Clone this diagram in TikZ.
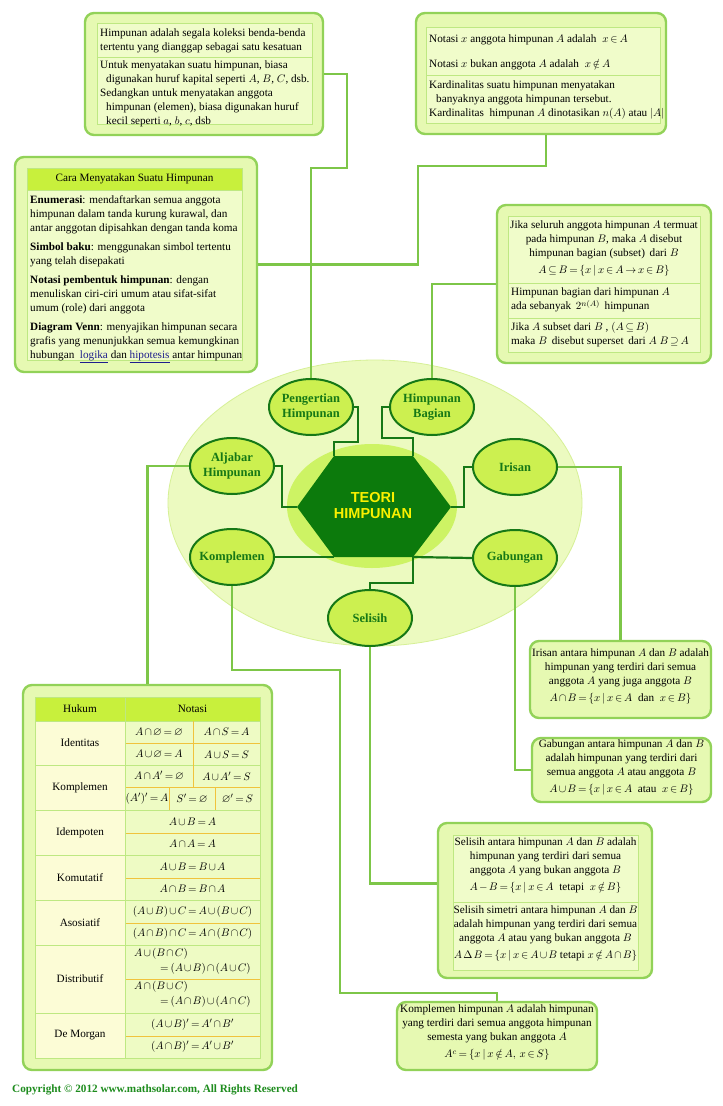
\documentclass[tikz,border=0pt]{standalone}
\usepackage{amssymb}
\usepackage{fontspec}
\setmainfont{Liberation Serif}
\newfontfamily\hexfont{Liberation Sans}
\definecolor{hpdark}{RGB}{22,120,22}
\definecolor{hphex}{RGB}{12,122,12}
\definecolor{hpyellow}{RGB}{250,240,0}
\definecolor{hptopic}{RGB}{204,240,80}
\definecolor{hpbig}{RGB}{236,250,192}
\definecolor{hpbigline}{RGB}{214,240,150}
\definecolor{hpinner}{RGB}{205,243,100}
\definecolor{hpboxfill}{RGB}{230,249,178}
\definecolor{hpboxline}{RGB}{146,210,88}
\definecolor{hpcell}{RGB}{240,252,202}
\definecolor{hpcellline}{RGB}{190,232,130}
\definecolor{hphead}{RGB}{200,240,60}
\definecolor{hplink}{RGB}{125,198,72}
\definecolor{hplaw}{RGB}{252,252,214}
\definecolor{hpnot}{RGB}{238,251,196}
\definecolor{hporange}{RGB}{240,195,60}
\definecolor{hpcopy}{RGB}{30,140,30}
\definecolor{hpblue}{RGB}{30,30,140}
\usetikzlibrary{shapes.geometric,calc}
\newcommand{\boxfont}{\fontsize{11.2}{14}\selectfont\medmuskip=2mu\relax\thickmuskip=3mu\relax}
\newcommand{\distfont}{\fontsize{11.2}{15}\selectfont\medmuskip=2mu\relax\thickmuskip=3mu\relax}
\newcommand{\topicfont}{\fontsize{12.5}{15.5}\selectfont\bfseries}
\newcommand{\weblink}[1]{\textcolor{hpblue}{\underline{#1}}}

\begin{document}
\begin{tikzpicture}[x=1pt, y=-1pt,
  bigbox/.style={draw=hpboxline, line width=2.4pt, fill=hpboxfill, rounded corners=9pt, inner sep=0pt},
  cell/.style={draw=hpcellline, line width=0.6pt, fill=hpcell, inner sep=0pt, anchor=north west},
  txt/.style={font=\boxfont, inner sep=0pt, align=left, anchor=north west},
  ctxt/.style={font=\boxfont, inner sep=0pt, align=center, anchor=north},
  topic/.style={ellipse, draw=hpdark, line width=2pt, fill=hptopic, minimum width=84pt, minimum height=56pt, inner xsep=-6pt, inner ysep=0pt, font=\topicfont, text=hpdark, align=center},
  darklink/.style={draw=hpdark, line width=2.2pt},
  lightlink/.style={draw=hplink, line width=2.4pt},
  cellnote/.style={font=\boxfont, inner sep=0pt}]
  \useasboundingbox (0,0) rectangle (723,1106);
  \fill[white] (0,0) rectangle (723,1106);

  % Centre ellipses
  \draw[fill=hpbig, draw=hpbigline, line width=0.8pt] (375,503) ellipse [x radius=207, y radius=143];
  \fill[hpinner] (372,506) ellipse [x radius=85, y radius=62];

  % Hexagon
  \coordinate (hexTL) at (334,456);
  \coordinate (hexTR) at (413,456);
  \coordinate (hexR) at (451,507);
  \coordinate (hexBR) at (413,557);
  \coordinate (hexBL) at (334,557);
  \coordinate (hexL) at (297,507);
  \fill[hphex] (hexTL) -- (hexTR) -- (hexR) -- (hexBR) -- (hexBL) -- (hexL) -- cycle;
  \node[font=\hexfont\fontsize{14.5}{16}\selectfont\bfseries, text=hpyellow, align=center] (teori) at (373,506) {TEORI\\HIMPUNAN};

  % Topic ellipses
  \node[topic] (pengertian) at (311,407) {Pengertian\\Himpunan};
  \node[topic] (bagian) at (432,407) {Himpunan\\Bagian};
  \node[topic] (aljabar) at (232,466) {Aljabar\\Himpunan};
  \node[topic] (irisan) at (515,467) {Irisan};
  \node[topic] (komplemen) at (232,557) {Komplemen};
  \node[topic] (gabungan) at (515,558) {Gabungan};
  \node[topic] (selisih) at (370,618) {Selisih};

  % Definisi
  \node[bigbox, minimum width=238pt, minimum height=122pt] (def) at (204,74) {};
  \node[cell, minimum width=215pt, minimum height=34pt] (defcellA) at (97,23) {};
  \node[cell, minimum width=215pt, minimum height=67pt] (defcellB) at (97,57) {};
  \node[txt] (deftextA) at (100,29) {Himpunan adalah segala koleksi benda-benda\\tertentu yang dianggap sebagai satu kesatuan};
  \node[txt] (deftextB) at (100,61) {Untuk menyatakan suatu himpunan, biasa\\\hspace*{6pt}digunakan huruf kapital seperti $A$, $B$, $C$, dsb.\\Sedangkan untuk menyatakan anggota\\\hspace*{6pt}himpunan (elemen), biasa digunakan huruf\\\hspace*{6pt}kecil seperti $a$, $b$, $c$, dsb};

  % Notasi anggota
  \node[bigbox, minimum width=250pt, minimum height=121pt] (notasi) at (541,73.5) {};
  \node[cell, minimum width=234pt, minimum height=48pt] (notcellA) at (426,27) {};
  \node[cell, minimum width=234pt, minimum height=48pt] (notcellB) at (426,75) {};
  \node[txt] (nottextA) at (429,35) {Notasi $x$ anggota himpunan $A$ adalah\; $x\in A$};
  \node[txt] (nottextB) at (429,59) {Notasi $x$ bukan anggota $A$ adalah\; $x\notin A$};
  \node[txt] (nottextC) at (429,81) {Kardinalitas suatu himpunan menyatakan\\\hspace*{7pt}banyaknya anggota himpunan tersebut.\\Kardinalitas\ \ himpunan $A$ dinotasikan $n(A)$ atau $|A|$};

  % Cara menyatakan
  \node[bigbox, minimum width=242pt, minimum height=215pt] (cara) at (136,264.5) {};
  \node[cell, fill=hphead, minimum width=215pt, minimum height=22pt] (carahead) at (27,168) {};
  \node[cell, minimum width=215pt, minimum height=170pt] (carabody) at (27,190) {};
  \node[cellnote] (caratitle) at (134.5,179) {Cara Menyatakan Suatu Himpunan};
  \node[txt] (caratext) at (30,195) {\textbf{Enumerasi}: mendaftarkan semua anggota\\himpunan dalam tanda kurung kurawal, dan\\antar anggotan dipisahkan dengan tanda koma\\[5pt]\textbf{Simbol baku}: menggunakan simbol tertentu\\yang telah disepakati\\[5pt]\textbf{Notasi pembentuk himpunan}: dengan\\menuliskan ciri-ciri umum atau sifat-sifat\\umum (role) dari anggota\\[5pt]\textbf{Diagram Venn}: menyajikan himpunan secara\\grafis yang menunjukkan semua kemungkinan\\hubungan\ \ \weblink{logika} dan \weblink{hipotesis} antar himpunan};

  % Himpunan bagian
  \node[bigbox, minimum width=214pt, minimum height=158pt] (subset) at (604,284) {};
  \node[cell, minimum width=192pt, minimum height=67pt] (subcellA) at (508,216) {};
  \node[cell, minimum width=192pt, minimum height=35pt] (subcellB) at (508,283) {};
  \node[cell, minimum width=192pt, minimum height=34pt] (subcellC) at (508,318) {};
  \node[ctxt] (subtextA) at (604,221) {Jika seluruh anggota himpunan $A$ termuat\\pada himpunan $B$, maka $A$ disebut\\himpunan bagian (subset)\, dari $B$\\[3pt]$A\subseteq B=\{x\mid x\in A\to x\in B\}$};
  \node[txt] (subtextB) at (511,288) {Himpunan bagian dari himpunan $A$\\ada sebanyak\, $2^{n(A)}$\, himpunan};
  \node[txt] (subtextC) at (511,322) {Jika $A$ subset dari $B$ , $(A\subseteq B)$\\maka $B$\, disebut superset\, dari $A$ $B\supseteq A$};

  % Irisan
  \node[bigbox, minimum width=181pt, minimum height=77pt] (irisanbox) at (620.5,679.5) {};
  \node[ctxt] (iristext) at (620.5,649) {Irisan antara himpunan $A$ dan $B$ adalah\\himpunan yang terdiri dari semua\\anggota $A$ yang juga anggota $B$\\[3pt]$A\cap B=\{x\mid x\in A$\ \ dan\ \ $x\in B\}$};

  % Gabungan
  \node[bigbox, minimum width=179pt, minimum height=64pt] (gabunganbox) at (621.5,770) {};
  \node[ctxt] (gabtext) at (621.5,740) {Gabungan antara himpunan $A$ dan $B$\\adalah himpunan yang terdiri dari\\semua anggota $A$ atau anggota $B$\\[3pt]$A\cup B=\{x\mid x\in A$\ \ atau\ \ $x\in B\}$};

  % Selisih
  \node[bigbox, minimum width=214pt, minimum height=155pt] (selisihbox) at (545,900.5) {};
  \node[cell, minimum width=185pt, minimum height=67pt] (selcellA) at (453,835) {};
  \node[cell, minimum width=185pt, minimum height=68pt] (selcellB) at (453,902) {};
  \node[ctxt] (seltextA) at (545.5,838) {Selisih antara himpunan $A$ dan $B$ adalah\\himpunan yang terdiri dari semua\\anggota $A$ yang bukan anggota $B$\\[3pt]$A-B=\{x\mid x\in A$\ \ tetapi\ \ $x\notin B\}$};
  \node[ctxt] (seltextB) at (545.5,906) {Selisih simetri antara himpunan $A$ dan $B$\\adalah himpunan yang terdiri dari semua\\anggota $A$ atau yang bukan anggota $B$\\[3pt]$A\mathbin{\Delta} B=\{x\mid x\in A\cup B$\ tetapi\ $x\notin A\cap B\}$};

  % Komplemen
  \node[bigbox, minimum width=200pt, minimum height=68pt] (kompbox) at (497,1036) {};
  \node[ctxt] (komptext) at (497,1005) {Komplemen himpunan $A$ adalah himpunan\\yang terdiri dari semua anggota himpunan\\semesta yang bukan anggota $A$\\[3pt]$A^c=\{x\mid x\notin A,\, x\in S\}$};

  % Aljabar table
  \node[bigbox, minimum width=249pt, minimum height=385pt] (hukum) at (147.5,877.5) {};
  \fill[hphead] (35,697) rectangle (260,721);
  \node[cellnote] (headhukum) at (80,709) {Hukum};
  \node[cellnote] (headnotasi) at (192.5,709) {Notasi};
  \foreach \id/\law/\top/\bot in {lawA/Identitas/721/765, lawB/Komplemen/765/810, lawC/Idempoten/810/855, lawD/Komutatif/855/900, lawE/Asosiatif/900/945, lawF/Distributif/945/1013, lawG/De Morgan/1013/1058} {
    \fill[hplaw] (35,\top) rectangle (125,\bot);
    \fill[hpnot] (125,\top) rectangle (260,\bot);
    \node[cellnote] (\id) at (80,{(\top+\bot)/2}) {\law};
    \draw[hpcellline, line width=0.8pt] (35,\top) -- (260,\top);
  }
  \foreach \y in {743,787,833,878,923,979,1036}
    \draw[hporange, line width=1pt] (125,\y) -- (260,\y);
  \draw[hporange, line width=1pt] (193,721) -- (193,787);
  \draw[hporange, line width=1pt] (169,787) -- (169,810);
  \draw[hporange, line width=1pt] (215,787) -- (215,810);
  \draw[hpcellline, line width=0.8pt] (125,697) -- (125,1058);
  \draw[hpcellline, line width=0.8pt] (35,697) rectangle (260,1058);

  % Table entries
  \node[cellnote] (idA) at (159,732) {$A\cap\varnothing=\varnothing$};
  \node[cellnote] (idB) at (226.5,732) {$A\cap S=A$};
  \node[cellnote] (idC) at (159,754.5) {$A\cup\varnothing=A$};
  \node[cellnote] (idD) at (226.5,754.5) {$A\cup S=S$};
  \node[cellnote] (kpA) at (159,776) {$A\cap A'=\varnothing$};
  \node[cellnote] (kpB) at (226.5,776) {$A\cup A'=S$};
  \node[cellnote] (kpC) at (147,798.5) {$(A')'=A$};
  \node[cellnote] (kpD) at (192,798.5) {$S'=\varnothing$};
  \node[cellnote] (kpE) at (237.5,798.5) {$\varnothing'=S$};
  \node[cellnote] (ipA) at (192.5,821.5) {$A\cup B=A$};
  \node[cellnote] (ipB) at (192.5,844) {$A\cap A=A$};
  \node[cellnote] (kmA) at (192.5,866.5) {$A\cup B=B\cup A$};
  \node[cellnote] (kmB) at (192.5,889) {$A\cap B=B\cap A$};
  \node[cellnote] (asA) at (192.5,911.5) {$(A\cup B)\cup C=A\cup(B\cup C)$};
  \node[cellnote] (asB) at (192.5,934) {$(A\cap B)\cap C=A\cap(B\cap C)$};
  \node[txt, font=\distfont] (dsA) at (134,948) {$A\cup(B\cap C)$\\\hspace*{26pt}$=(A\cup B)\cap(A\cup C)$};
  \node[txt, font=\distfont] (dsB) at (134,981) {$A\cap(B\cup C)$\\\hspace*{26pt}$=(A\cap B)\cup(A\cap C)$};
  \node[cellnote] (dmA) at (192.5,1024.5) {$(A\cup B)'=A'\cap B'$};
  \node[cellnote] (dmB) at (192.5,1047) {$(A\cap B)'=A'\cup B'$};

  % Copyright
  \node[font=\fontsize{11.2}{13}\selectfont\bfseries, text=hpcopy, anchor=west, inner sep=0pt] (copyright) at (12,1090) {Copyright \textcopyright\ 2012 www.mathsolar.com, All Rights Reserved};

  % Light connectors
  \coordinate (bendA) at (347,168);
  \coordinate (joinA) at (pengertian.north |- cara.east);
  \coordinate (bendB) at (418,166);
  \coordinate (bendC) at (340,670);
  \coordinate (bendD) at (497,993);
  \draw[lightlink] (pengertian.north) |- (bendA) |- (def.east);
  \draw[lightlink] (cara.east) -- (joinA);
  \draw[lightlink] ([xshift=5pt]notasi.south) |- (bendB) |- (joinA);
  \draw[lightlink] (bagian.north) |- (subset.west);
  \draw[lightlink] (aljabar.west) -| (hukum.north);
  \draw[lightlink] (irisan.east) -| (irisanbox.north);
  \draw[lightlink] (gabungan.south) |- (gabunganbox.west);
  \draw[lightlink] (selisih.south) |- ([yshift=17pt]selisihbox.west);
  \draw[lightlink] (komplemen.south) |- (bendC) |- (bendD) -- (kompbox.north);

  % Dark connectors
  \coordinate (darkA) at (358,442);
  \coordinate (darkB) at (382,438);
  \coordinate (darkC) at (282,507);
  \coordinate (darkD) at (464,467);
  \coordinate (darkE) at (370,583);
  \draw[darklink] (hexTL) |- (darkA) |- (pengertian.east);
  \draw[darklink] (hexTR) |- (darkB) |- (bagian.west);
  \draw[darklink] (aljabar.east) -| (darkC) -- (hexL);
  \draw[darklink] (hexR) -| (darkD) -- (irisan.west);
  \draw[darklink] (komplemen.east) -- (hexBL);
  \draw[darklink] (hexBR) -- (gabungan.west);
  \draw[darklink] (hexBR) |- (darkE) -- (selisih.north);
\end{tikzpicture}
\end{document}
